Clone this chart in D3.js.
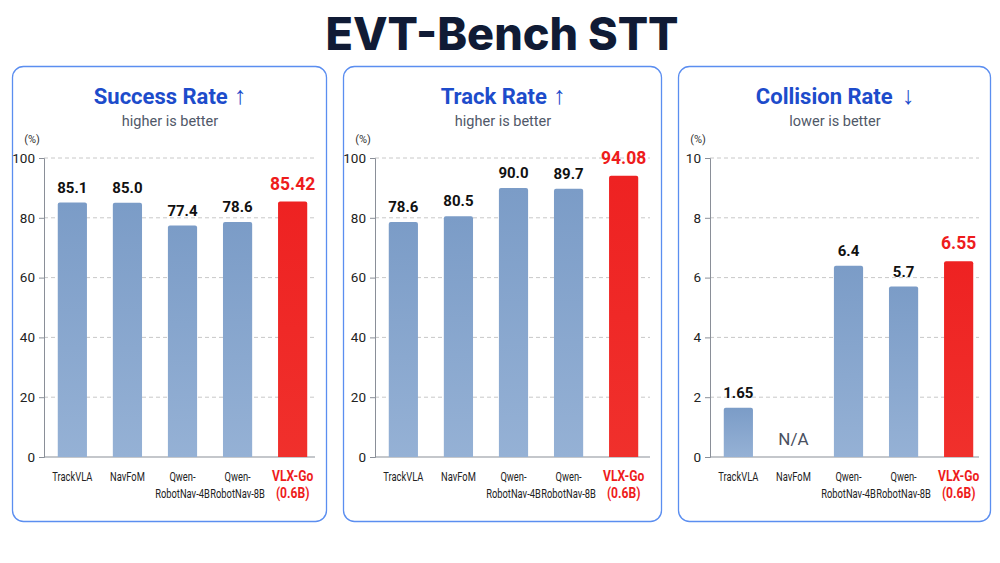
<!DOCTYPE html>
<html><head><meta charset="utf-8">
<script src="https://cdn.jsdelivr.net/npm/d3@7"></script>
<style>
html,body{margin:0;padding:0;background:#fff;}
svg{display:block;}
</style></head>
<body>
<svg id="chart" width="1000" height="563"></svg>
<script>
const mainTitle = "EVT-Bench STT";
const categories = ["TrackVLA","NavFoM","Qwen-RobotNav-4B","Qwen-RobotNav-8B","VLX-Go (0.6B)"];
const categoryLines = [["TrackVLA"],["NavFoM"],["Qwen-","RobotNav-4B"],["Qwen-","RobotNav-8B"],["VLX-Go","(0.6B)"]];
const panelTitles = ["Success Rate","Track Rate","Collision Rate"];
const panelArrows = ["↑","↑","↓"];
const panelSubtitles = ["higher is better","higher is better","lower is better"];
const successRate = [85.1, 85.0, 77.4, 78.6, 85.42];
const trackRate = [78.6, 80.5, 90.0, 89.7, 94.08];
const collisionRate = [1.65, null, 6.4, 5.7, 6.55];
const valueLabels = [["85.1","85.0","77.4","78.6","85.42"],["78.6","80.5","90.0","89.7","94.08"],["1.65","N/A","6.4","5.7","6.55"]];
const yMax = [100, 100, 10];
const yTicks = [[0,20,40,60,80,100],[0,20,40,60,80,100],[0,2,4,6,8,10]];
const highlightIndex = 4;

const svg = d3.select("#chart");
const defs = svg.append("defs");
const g1 = defs.append("linearGradient").attr("id","blueGrad").attr("x1",0).attr("y1",0).attr("x2",0).attr("y2",1);
g1.append("stop").attr("offset","0%").attr("stop-color","#7b9cc7");
g1.append("stop").attr("offset","100%").attr("stop-color","#95b1d5");
const g2 = defs.append("linearGradient").attr("id","redGrad").attr("x1",0).attr("y1",0).attr("x2",0).attr("y2",1);
g2.append("stop").attr("offset","0%").attr("stop-color","#ee2222");
g2.append("stop").attr("offset","100%").attr("stop-color","#f0302c");

svg.append("text").attr("x",502).attr("y",50).attr("text-anchor","middle")
  .attr("font-family","Inter, 'DejaVu Sans', sans-serif").attr("font-weight",800)
  .attr("font-size",45).attr("fill","#101b35").text(mainTitle);

const series = [successRate, trackRate, collisionRate];
const panelX = [12, 343, 678];
const panelW = [314, 318, 312];
const panelTop = 66, panelBottom = 521;
const yTop = 158, yBottom = 457;
const font = "Roboto, 'Liberation Sans', sans-serif";

series.forEach((vals, p) => {
  const px = panelX[p], pw = panelW[p];
  const g = svg.append("g");
  g.append("rect").attr("x",px+0.5).attr("y",panelTop+0.5).attr("width",pw).attr("height",panelBottom-panelTop)
    .attr("rx",11).attr("fill","#fff").attr("stroke","#5b8ef0").attr("stroke-width",1.3);
  const cx = px + pw/2 + 1;
  const tt = g.append("text").attr("x",cx).attr("y",104).attr("text-anchor","middle")
    .attr("font-family",font).attr("font-weight",700).attr("font-size",22).attr("fill","#1d4ccb");
  tt.append("tspan").text(panelTitles[p]);
  tt.append("tspan").attr("dx", p === 2 ? 9 : 6).attr("font-size",25).attr("font-weight",400).text(panelArrows[p]);
  g.append("text").attr("x",cx).attr("y",126).attr("text-anchor","middle")
    .attr("font-family",font).attr("font-size",14.5).attr("fill","#505868")
    .text(panelSubtitles[p]);

  const axisX = px + 32;
  const gridEnd = px + pw - 11;
  const y = d3.scaleLinear().domain([0, yMax[p]]).range([yBottom, yTop]);
  const x = d3.scaleBand().domain(categories).range([axisX, axisX + 277]).paddingInner(0.47).paddingOuter(0.25);

  g.append("text").attr("x",axisX-12).attr("y",143).attr("text-anchor","middle")
    .attr("font-family",font).attr("font-size",11).attr("fill","#333").text("(%)");

  g.selectAll(".grid").data(yTicks[p].filter(t => t > 0)).join("line")
    .attr("x1",axisX).attr("x2",gridEnd).attr("y1",d=>y(d)).attr("y2",d=>y(d))
    .attr("stroke","#c8c8c8").attr("stroke-dasharray","4,3").attr("stroke-width",1);

  const yAxis = d3.axisLeft(y).tickValues(yTicks[p]).tickSize(5).tickPadding(4).tickFormat(d3.format("d"));
  const ya = g.append("g").attr("transform",`translate(${axisX},0)`).call(yAxis);
  ya.select(".domain").attr("stroke","#8a8f98");
  ya.selectAll(".tick line").attr("stroke","#8a8f98");
  ya.selectAll(".tick text").attr("font-family",font).attr("font-size",13.5).attr("fill","#222");

  g.append("line").attr("x1",axisX).attr("x2",gridEnd).attr("y1",y(0)).attr("y2",y(0))
    .attr("stroke","#8a8f98").attr("stroke-width",1.2);

  const data = categories.map((c,i)=>({c, v: vals[i], i, label: valueLabels[p][i]}));
  g.selectAll(".bar").data(data.filter(d => d.v !== null)).join("path")
    .attr("d", d => {
      const x0 = x(d.c), w = x.bandwidth(), y0 = y(d.v), h = y(0) - y(d.v), r = 2;
      return `M${x0},${y0+h}V${y0+r}Q${x0},${y0} ${x0+r},${y0}H${x0+w-r}Q${x0+w},${y0} ${x0+w},${y0+r}V${y0+h}Z`;
    })
    .attr("fill", d => d.i === highlightIndex ? "url(#redGrad)" : "url(#blueGrad)");

  g.selectAll(".vlab").data(data).join("text")
    .attr("x", d => x(d.c) + x.bandwidth()/2)
    .attr("y", d => d.v === null ? y(0) - 12 : y(d.v) - (d.i === highlightIndex ? 12 : 10))
    .attr("text-anchor","middle").attr("font-family",font)
    .attr("font-weight", d => d.v === null ? 400 : 700)
    .attr("font-size", d => d.v === null ? 17 : (d.i === highlightIndex ? 17.5 : 15))
    .attr("fill", d => d.v === null ? "#4a5060" : (d.i === highlightIndex ? "#ee1c1c" : "#111"))
    .text(d => d.label);

  const xg = g.selectAll(".xlab").data(data).join("g")
    .attr("transform", d => `translate(${x(d.c) + x.bandwidth()/2},481) scale(0.78,1)`);
  const xl = xg.append("text")
    .attr("text-anchor","middle").attr("font-family",font)
    .attr("font-size", d => d.i === highlightIndex ? 15.5 : 12)
    .attr("font-weight", d => d.i === highlightIndex ? 700 : 400)
    .attr("fill", d => d.i === highlightIndex ? "#ee1c1c" : "#222");
  xl.each(function(d){
    const t = d3.select(this);
    categoryLines[d.i].forEach((ln, k) => {
      t.append("tspan").attr("x", 0).attr("y", k*17).text(ln);
    });
  });
});
</script>
</body></html>
